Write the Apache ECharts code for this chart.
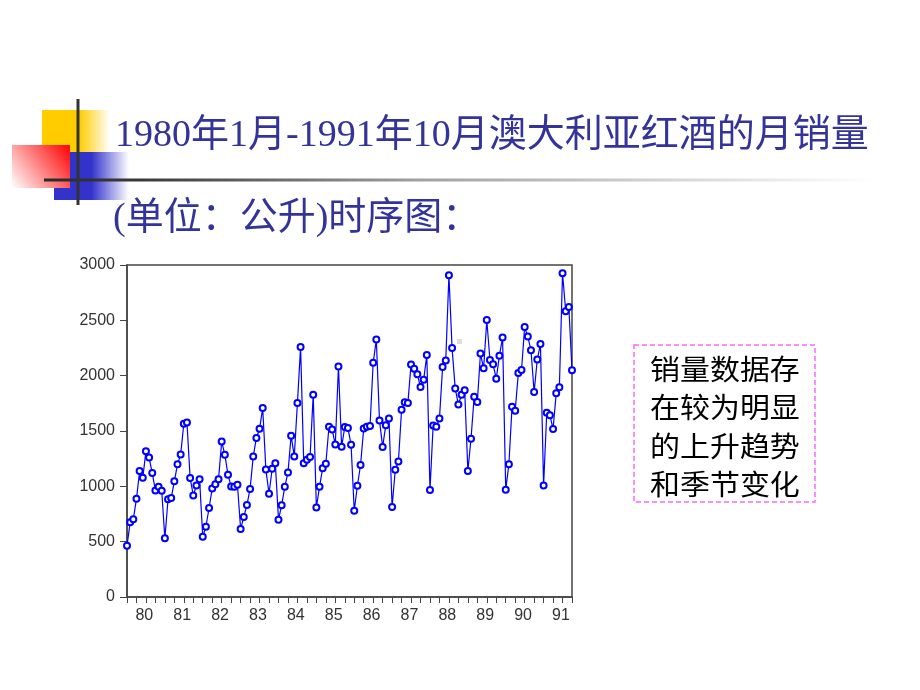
<!DOCTYPE html>
<html lang="zh">

<head>
    <meta charset="UTF-8">
    <style>
        html, body {
            margin: 0;
            padding: 0;
            background: #fff;
        }
        #main {
            width: 920px;
            height: 690px;
        }
    </style>
    <title>澳大利亚红酒月销量</title>
</head>

<body>
    <div id="main"></div>
    <script src="https://cdn.jsdelivr.net/npm/echarts@6/dist/echarts.min.js"></script>
    <script>
        // 1980年1月 - 1991年10月 月销量（公升）
        var monthlySales = [
            464, 675, 703, 887, 1139, 1077, 1318, 1260, 1120, 963, 996, 960,
            530, 883, 894, 1045, 1199, 1287, 1565, 1577, 1076, 918, 1008, 1063,
            544, 635, 804, 980, 1018, 1064, 1404, 1286, 1104, 999, 996, 1015,
            615, 722, 832, 977, 1270, 1437, 1520, 1708, 1151, 934, 1159, 1209,
            699, 830, 996, 1124, 1458, 1270, 1753, 2258, 1208, 1241, 1265, 1828,
            809, 997, 1164, 1205, 1538, 1513, 1378, 2083, 1357, 1536, 1526, 1376,
            779, 1005, 1193, 1522, 1539, 1546, 2116, 2326, 1596, 1356, 1553, 1613,
            814, 1150, 1225, 1691, 1759, 1754, 2100, 2062, 2012, 1897, 1964, 2186,
            966, 1549, 1538, 1612, 2078, 2137, 2907, 2249, 1883, 1739, 1828, 1868,
            1138, 1430, 1809, 1763, 2200, 2067, 2503, 2141, 2103, 1972, 2181, 2344,
            970, 1199, 1718, 1683, 2025, 2051, 2439, 2353, 2230, 1852, 2147, 2286,
            1007, 1665, 1642, 1518, 1840, 1895, 2925, 2582, 2620, 2048
        ];
        var yearLabels = ['80', '81', '82', '83', '84', '85', '86', '87', '88', '89', '90', '91'];
        var yTicks = [0, 500, 1000, 1500, 2000, 2500, 3000];
        var noteLines = ['销量数据存', '在较为明显', '的上升趋势', '和季节变化'];

        var seriesData = monthlySales.map(function (v, i) {
            return [i, v];
        });
        // 季度刻度，年份标签放在每年中间
        var quarterTicks = [];
        for (var q = 0; q < monthlySales.length; q += 3) quarterTicks.push(q);
        var yearLabelPos = yearLabels.map(function (y, i) {
            return i * 12 + 5.5;
        });

        var titleFont = '"Liberation Serif", "Noto Sans CJK SC", serif';

        var graphics = [
            // 左上角装饰
            {
                type: 'rect', shape: { x: 42, y: 110, width: 68, height: 43 },
                style: {
                    fill: new echarts.graphic.LinearGradient(0, 0, 1, 0, [
                        { offset: 0, color: '#ffcc00' },
                        { offset: 0.55, color: '#ffcc00' },
                        { offset: 1, color: '#ffffff' }
                    ])
                }
            },
            {
                type: 'rect', shape: { x: 54, y: 152, width: 75, height: 48 },
                style: {
                    fill: new echarts.graphic.LinearGradient(0, 0, 1, 0, [
                        { offset: 0, color: '#3333cc' },
                        { offset: 0.5, color: '#3333cc' },
                        { offset: 1, color: '#ffffff' }
                    ])
                }
            },
            {
                type: 'rect', shape: { x: 12, y: 145, width: 58, height: 43 },
                style: {
                    fill: new echarts.graphic.LinearGradient(1, 0, 0, 1, [
                        { offset: 0, color: '#ff0000' },
                        { offset: 1, color: '#ffffff' }
                    ])
                }
            },
            {
                type: 'rect', shape: { x: 44, y: 178.5, width: 830, height: 3 },
                style: {
                    fill: new echarts.graphic.LinearGradient(0, 0, 1, 0, [
                        { offset: 0, color: '#2a2a2a' },
                        { offset: 0.12, color: '#3a3a3a' },
                        { offset: 0.45, color: '#a0a0a0' },
                        { offset: 1, color: '#ffffff' }
                    ])
                }
            },
            {
                type: 'line', shape: { x1: 78, y1: 99, x2: 78, y2: 205 },
                style: { stroke: '#333', lineWidth: 3 }
            },
            // 标题
            {
                type: 'text', x: 115, y: 136,
                style: {
                    text: '1980年1月-1991年10月澳大利亚红酒的月销量',
                    fill: '#333399', font: '38px ' + titleFont,
                    textAlign: 'left', textVerticalAlign: 'middle'
                }
            },
            {
                type: 'text', x: 113, y: 219,
                style: {
                    text: '(单位：公升)时序图：',
                    fill: '#333399', font: '38px ' + titleFont,
                    textAlign: 'left', textVerticalAlign: 'middle'
                }
            },
            // 说明文字框
            {
                type: 'rect', shape: { x: 634, y: 345, width: 181, height: 157 },
                style: { fill: 'none', stroke: '#ff66ff', lineWidth: 1.5, lineDash: [5, 3] }
            },
            {
                type: 'rect', shape: { x: 457, y: 339, width: 5, height: 5 },
                style: { fill: '#dddddd' }
            }
        ];
        noteLines.forEach(function (t, i) {
            graphics.push({
                type: 'text', x: 650, y: 369 + i * 38.5, scaleX: 1.07,
                style: {
                    text: t, fill: '#000',
                    font: '28px "Noto Sans CJK SC", sans-serif',
                    textAlign: 'left', textVerticalAlign: 'middle'
                }
            });
        });

        var option = {
            backgroundColor: '#fff',
            animation: false,
            grid: {
                left: 127,
                top: 265,
                width: 445,
                height: 332,
                show: true,
                borderColor: '#444',
                borderWidth: 1.5
            },
            xAxis: {
                type: 'value',
                min: 0,
                max: monthlySales.length - 1,
                splitLine: { show: false },
                axisLine: { lineStyle: { color: '#444', width: 1.5 } },
                axisTick: {
                    customValues: quarterTicks,
                    length: 6,
                    lineStyle: { color: '#444' }
                },
                axisLabel: {
                    customValues: yearLabelPos,
                    margin: 11,
                    color: '#333',
                    fontSize: 16,
                    fontFamily: '"Liberation Sans", Arial, sans-serif',
                    formatter: function (v) {
                        return yearLabels[Math.round((v - 5.5) / 12)];
                    }
                }
            },
            yAxis: {
                type: 'value',
                min: yTicks[0],
                max: yTicks[yTicks.length - 1],
                interval: 500,
                splitLine: { show: false },
                axisLine: { show: true, lineStyle: { color: '#444', width: 1.5 } },
                axisTick: { show: true, length: 7, lineStyle: { color: '#444' } },
                axisLabel: {
                    margin: 12,
                    color: '#333',
                    fontSize: 16,
                    fontFamily: '"Liberation Sans", Arial, sans-serif',
                    formatter: function (v) {
                        return String(v);
                    }
                }
            },
            series: [{
                type: 'line',
                data: seriesData,
                symbol: 'emptyCircle',
                symbolSize: 6,
                lineStyle: { color: '#0000ff', width: 1.2 },
                itemStyle: { color: '#0000ff', borderColor: '#0000ff', borderWidth: 1.1 }
            }],
            graphic: graphics
        };

        var myChart = echarts.init(document.getElementById('main'));
        myChart.setOption(option);
    </script>
</body>

</html>
